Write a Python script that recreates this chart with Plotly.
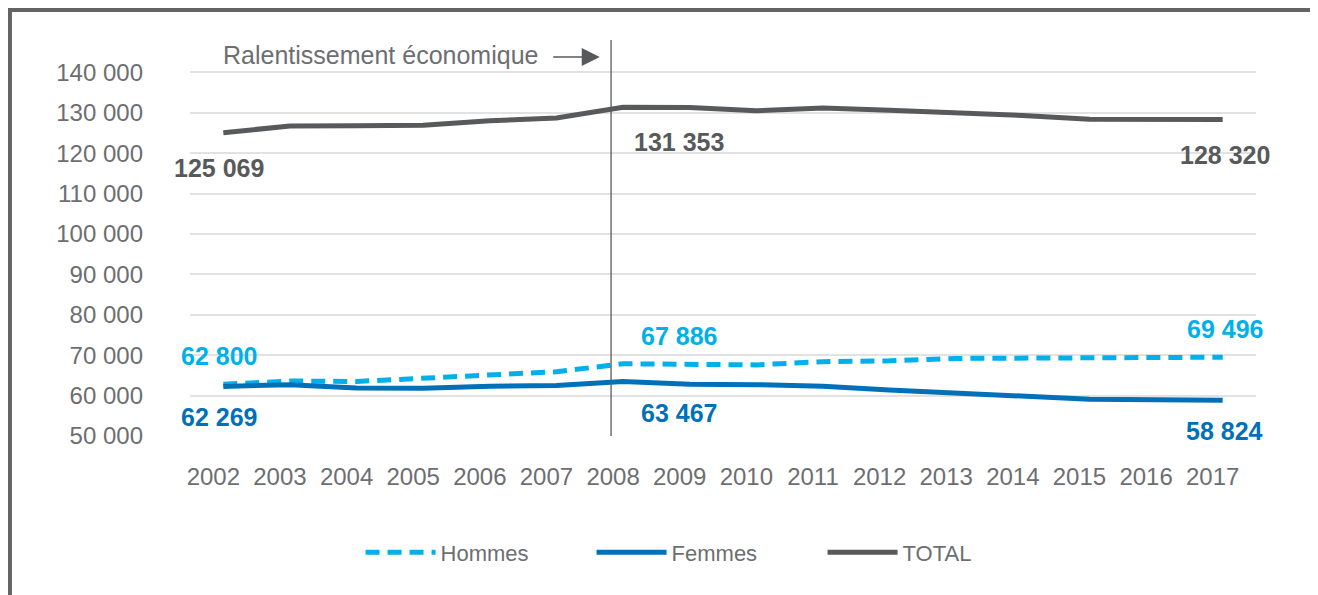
import plotly.graph_objects as go

years = list(range(2002, 2018))
hommes = [62800, 63600, 63500, 64300, 65200, 65900, 67886, 67700, 67600, 68400, 68600, 69200, 69300, 69400, 69450, 69496]
femmes = [62269, 62700, 61900, 61800, 62300, 62500, 63467, 62800, 62700, 62300, 61400, 60600, 60000, 59100, 59000, 58824]
total = [125069, 126700, 126800, 126900, 128000, 128700, 131353, 131300, 130500, 131200, 130600, 130000, 129300, 128400, 128350, 128320]
y_ticks = [50000, 60000, 70000, 80000, 90000, 100000, 110000, 120000, 130000, 140000]
y_ticktext = ["50 000", "60 000", "70 000", "80 000", "90 000", "100 000", "110 000", "120 000", "130 000", "140 000"]
event_year = 2008
event_text = "Ralentissement économique"
label_idx = [0, 6, 15]

C_H = "#00b0ea"
C_F = "#0071b9"
C_T = "#58595b"
C_TXT = "#6d6e71"
FONT = "Liberation Sans, Arial, sans-serif"

fig = go.Figure()
fig.add_trace(go.Scatter(x=years, y=hommes, name="Hommes", mode="lines",
                         line=dict(color=C_H, width=5, dash="14px,8px")))
fig.add_trace(go.Scatter(x=years, y=femmes, name="Femmes", mode="lines",
                         line=dict(color=C_F, width=5)))
fig.add_trace(go.Scatter(x=years, y=total, name="TOTAL", mode="lines",
                         line=dict(color=C_T, width=5)))

def fmt(v):
    return f"{v:,}".replace(",", " ")

anns = []
shifts = {0: -4, 6: 56, 15: 2}
for i in label_idx:
    anns.append(dict(x=years[i], y=total[i], text=f"<b>{fmt(total[i])}</b>", showarrow=False,
                     xshift=shifts[i], yshift=-35, font=dict(size=25, color=C_T, family=FONT)))
    anns.append(dict(x=years[i], y=hommes[i], text=f"<b>{fmt(hommes[i])}</b>", showarrow=False,
                     xshift=shifts[i], yshift=28, font=dict(size=25, color=C_H, family=FONT)))
    anns.append(dict(x=years[i], y=femmes[i], text=f"<b>{fmt(femmes[i])}</b>", showarrow=False,
                     xshift=shifts[i], yshift=-31, font=dict(size=25, color=C_F, family=FONT)))

# event annotation text + arrow
anns.append(dict(x=event_year - 0.35, y=0.957, xref="x", yref="paper", text="",
                 showarrow=True, ax=-48, ay=0, arrowhead=2, arrowsize=2.4, arrowwidth=1.5,
                 arrowcolor=C_T))
anns.append(dict(x=event_year - 0.35, y=0.957, xref="x", yref="paper", text=event_text,
                 showarrow=False, xanchor="right", yanchor="middle", xshift=-60, yshift=2,
                 font=dict(size=25, color=C_TXT, family=FONT)))

shapes = [
    dict(type="line", xref="x", yref="paper", x0=event_year - 0.18, x1=event_year - 0.18,
         y0=0, y1=1, line=dict(color="#5a5a5a", width=1.3)),
    dict(type="line", xref="paper", yref="paper", x0=-0.1689, x1=1.2, y0=1.0758, y1=1.0758,
         line=dict(color="#646464", width=4)),
    dict(type="line", xref="paper", yref="paper", x0=-0.1689, x1=-0.1689, y0=-0.6, y1=1.0808,
         line=dict(color="#646464", width=4)),
]

fig.update_layout(
    width=1310, height=587,
    margin=dict(l=182, r=62, t=32, b=159),
    paper_bgcolor="white", plot_bgcolor="white",
    font=dict(family=FONT, color=C_TXT, size=22),
    showlegend=True,
    legend=dict(orientation="h", x=0.16, y=-0.294, xanchor="left", yanchor="middle",
                font=dict(size=22, color=C_TXT, family=FONT), entrywidth=146,
                entrywidthmode="pixels", itemwidth=70),
    annotations=anns, shapes=shapes,
    xaxis=dict(range=[2001.5, 2017.5], tickvals=[y - 0.15 for y in years],
               ticktext=[str(y) for y in years], showgrid=False, zeroline=False,
               showline=False, ticks="", ticklabelstandoff=24,
               tickfont=dict(size=24, color=C_TXT)),
    yaxis=dict(range=[50000, 148000], tickvals=y_ticks, ticktext=y_ticktext,
               showgrid=True, gridcolor="#e2e2e2", gridwidth=2, zeroline=False,
               showline=False, ticks="", ticklabelstandoff=46,
               tickfont=dict(size=24, color=C_TXT)),
)

fig.write_html("out.html")
